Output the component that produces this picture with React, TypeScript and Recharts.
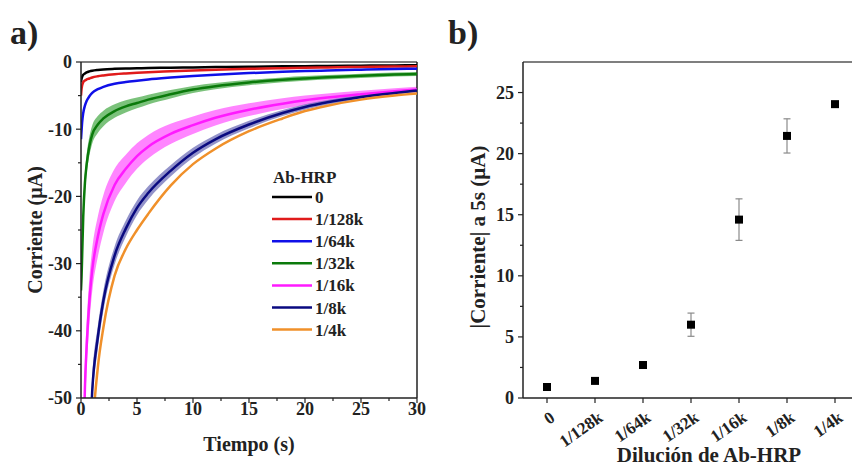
import React from 'react';
import {
  ComposedChart, Line, Area, XAxis, YAxis, ReferenceLine, ErrorBar,
} from 'recharts';

// panel a) chronoamperometry, current (µA) vs time (s)
const times = [0, 0.05, 0.1, 0.2, 0.35, 0.5, 0.75, 1, 1.5, 2, 3, 4, 5, 6, 8, 10, 12, 15, 18, 20, 22, 25, 28, 30];

const cur0   = [-3.0, -2.5, -2.2, -1.9, -1.7, -1.55, -1.4, -1.3, -1.18, -1.1, -1.02, -0.97, -0.93, -0.9, -0.85, -0.8, -0.76, -0.7, -0.65, -0.62, -0.59, -0.55, -0.51, -0.49];
const cur128 = [-5.0, -4.0, -3.5, -3.0, -2.75, -2.6, -2.45, -2.3, -2.12, -2.0, -1.82, -1.7, -1.6, -1.52, -1.38, -1.25, -1.15, -1.02, -0.92, -0.86, -0.8, -0.74, -0.68, -0.65];
const cur64  = [-11.5, -10.2, -9.0, -7.6, -6.5, -5.8, -5.1, -4.6, -4.05, -3.7, -3.25, -2.98, -2.78, -2.6, -2.32, -2.08, -1.88, -1.65, -1.45, -1.35, -1.26, -1.15, -1.05, -1.0];
const cur32  = [-34, -32, -29, -23, -18, -15.3, -12.5, -10.8, -9.3, -8.4, -7.3, -6.6, -6.1, -5.6, -4.8, -4.1, -3.6, -3.05, -2.65, -2.45, -2.28, -2.05, -1.87, -1.77];
const cur16  = [null, null, -80, -62, -48.5, -42.5, -35.5, -31.0, -26.0, -22.6, -18.3, -15.9, -14.0, -12.6, -10.7, -9.4, -8.3, -7.1, -6.2, -5.7, -5.3, -4.8, -4.35, -4.1];
const cur8   = [null, null, null, null, null, -70, -58, -49, -41, -35.5, -28.8, -24.8, -21.7, -19.5, -16.2, -13.5, -11.5, -9.3, -7.6, -6.7, -6.0, -5.2, -4.6, -4.25];
const cur4   = [null, null, null, null, null, -80, -66, -56, -45.5, -39.5, -31.8, -27.8, -25.0, -22.6, -18.4, -15.2, -12.9, -10.3, -8.4, -7.3, -6.5, -5.6, -5.0, -4.7];

// standard deviations (shaded bands)
const sd32 = [1.5, 1.5, 1.5, 1.5, 1.45, 1.45, 1.4, 1.35, 1.25, 1.15, 1.0, 0.9, 0.8, 0.72, 0.62, 0.52, 0.46, 0.4, 0.36, 0.35, 0.33, 0.32, 0.3, 0.3];
const sd16 = [null, null, 4, 4, 3.8, 3.6, 3.4, 3.2, 3.0, 2.8, 2.4, 2.1, 1.9, 1.75, 1.5, 1.3, 1.15, 0.95, 0.8, 0.7, 0.62, 0.52, 0.45, 0.4];
const sd8  = [null, null, null, null, null, 2.2, 2.1, 2.0, 1.7, 1.5, 1.35, 1.2, 1.1, 1.0, 0.85, 0.75, 0.65, 0.55, 0.45, 0.4, 0.36, 0.3, 0.27, 0.25];

const seriesNames  = ['0', '1/128k', '1/64k', '1/32k', '1/16k', '1/8k', '1/4k'];
const seriesColors = ['#000000', '#e01b1b', '#1010e8', '#0b7a0b', '#ff1aff', '#0a0a80', '#f0902a'];

// panel b) |current| at 5 s vs dilution
const dilutions  = ['0', '1/128k', '1/64k', '1/32k', '1/16k', '1/8k', '1/4k'];
const current5s  = [0.9, 1.4, 2.7, 6.0, 14.6, 21.45, 24.05];
const current5sE = [0.1, 0.1, 0.15, 0.95, 1.7, 1.4, 0.15];

const xTicksA = [0, 2.5, 5, 7.5, 10, 12.5, 15, 17.5, 20, 22.5, 25, 27.5, 30];
const yTicksA = [-50, -45, -40, -35, -30, -25, -20, -15, -10, -5, 0];
const yTicksB = [0, 2.5, 5, 7.5, 10, 12.5, 15, 17.5, 20, 22.5, 25];

const FONT = '"Liberation Serif", "Times New Roman", serif';
const INK = '#222';

const band = (v: (number | null)[], s: (number | null)[], i: number) =>
  v[i] == null || s[i] == null ? null : [(v[i] as number) - (s[i] as number), (v[i] as number) + (s[i] as number)];

const rowsA = times.map((t, i) => ({
  t,
  s0: cur0[i], s128: cur128[i], s64: cur64[i], s32: cur32[i], s16: cur16[i], s8: cur8[i], s4: cur4[i],
  b32: band(cur32, sd32, i), b16: band(cur16, sd16, i), b8: band(cur8, sd8, i),
}));
const lineKeys = ['s0', 's128', 's64', 's32', 's16', 's8', 's4'];

const rowsB = dilutions.map((name, i) => ({ name, value: current5s[i], err: current5sE[i] }));

function LeftTick(props: any) {
  const { x, y, payload, step } = props;
  const v = payload.value;
  const major = v % step === 0;
  return (
    <g>
      <line x1={x - (major ? 5 : 3)} x2={x} y1={y} y2={y} stroke={INK} strokeWidth={1.2} />
      {major && (
        <text x={x - 9} y={y} dy="0.35em" textAnchor="end" fontFamily={FONT} fontWeight="bold" fontSize={18} fill={INK}>
          {v}
        </text>
      )}
    </g>
  );
}

function BottomTick(props: any) {
  const { x, y, payload } = props;
  const v = payload.value;
  const major = v % 5 === 0;
  return (
    <g>
      <line x1={x} x2={x} y1={y} y2={y + (major ? 5 : 3)} stroke={INK} strokeWidth={1.2} />
      {major && (
        <text x={x} y={y + 17} textAnchor="middle" fontFamily={FONT} fontWeight="bold" fontSize={18} fill={INK}>
          {v}
        </text>
      )}
    </g>
  );
}

function RotatedTick(props: any) {
  const { x, y, payload } = props;
  const ax = x + 9;
  const ay = y + 22;
  return (
    <g>
      <line x1={x} x2={x} y1={y} y2={y + 5} stroke={INK} strokeWidth={1.2} />
      <text x={ax} y={ay} textAnchor="end" transform={`rotate(-35 ${ax} ${ay})`}
        fontFamily={FONT} fontWeight="bold" fontSize={17} fill={INK}>
        {payload.value}
      </text>
    </g>
  );
}

const squareDot = (p: any) => (
  <rect key={`sq-${p.index}`} x={p.cx - 4} y={p.cy - 4} width={8} height={8} fill="#000" />
);

export default function App() {
  return (
    <div style={{ position: 'absolute', left: 0, top: 0, width: 852, height: 470, overflow: 'hidden', background: '#fff' }}>
      <div style={{ position: 'absolute', left: 0, top: 0 }}>
        <ComposedChart width={430} height={470} data={rowsA} margin={{ top: 62, right: 13, bottom: 0, left: 0 }}>
          <XAxis dataKey="t" type="number" domain={[0, 30]} ticks={xTicksA} interval={0} allowDataOverflow
            height={72} tickSize={0} tickMargin={0} tickLine={false} tick={<BottomTick />}
            axisLine={{ stroke: INK, strokeWidth: 1.5 }} />
          <YAxis type="number" domain={[-50, 0]} ticks={yTicksA} interval={0} allowDataOverflow
            width={81} tickSize={0} tickMargin={0} tickLine={false} tick={<LeftTick step={10} />}
            axisLine={{ stroke: INK, strokeWidth: 1.5 }} />
          <ReferenceLine y={0} stroke="#555" strokeWidth={1.5} />
          <ReferenceLine x={30} stroke={INK} strokeWidth={1.5} />
          <Area type="monotone" dataKey="b32" stroke="none" fill="#4fae4f" fillOpacity={0.75} isAnimationActive={false} />
          <Area type="monotone" dataKey="b16" stroke="none" fill="#ff5cff" fillOpacity={0.75} isAnimationActive={false} />
          <Area type="monotone" dataKey="b8" stroke="none" fill="#6f6fb8" fillOpacity={0.75} isAnimationActive={false} />
          {lineKeys.map((k, i) => (
            <Line key={k} type="monotone" dataKey={k} stroke={seriesColors[i]} strokeWidth={2.5}
              dot={false} isAnimationActive={false} />
          ))}
        </ComposedChart>
      </div>

      <div style={{ position: 'absolute', left: 430, top: 0 }}>
        <ComposedChart width={430} height={470} data={rowsB} margin={{ top: 62, right: 1, bottom: 0, left: 0 }}>
          <XAxis dataKey="name" type="category" padding={{ left: 24, right: 24 }} interval={0}
            height={72} tickSize={0} tickMargin={0} tickLine={false} tick={<RotatedTick />}
            axisLine={{ stroke: INK, strokeWidth: 1.5 }} />
          <YAxis type="number" domain={[0, 27.5]} ticks={yTicksB} interval={0} allowDataOverflow
            width={93} tickSize={0} tickMargin={0} tickLine={false} tick={<LeftTick step={5} />}
            axisLine={{ stroke: INK, strokeWidth: 1.5 }} />
          <ReferenceLine y={27.5} stroke="#555" strokeWidth={1.5} />
          <Line dataKey="value" stroke="none" dot={squareDot} isAnimationActive={false}>
            <ErrorBar dataKey="err" direction="y" width={3.5} stroke="#8a8a8a" strokeWidth={1.2} />
          </Line>
        </ComposedChart>
      </div>

      <svg width={852} height={470} style={{ position: 'absolute', left: 0, top: 0, pointerEvents: 'none' }}
        fontFamily={FONT} fontWeight="bold" fill={INK}>
        <text x={10} y={44} fontSize={34}>a)</text>
        <text x={448} y={44} fontSize={34}>b)</text>
        <text x={249} y={451} fontSize={20} textAnchor="middle">Tiempo (s)</text>
        <text x={35} y={230} fontSize={20} textAnchor="middle" dominantBaseline="central"
          transform="rotate(-90 35 230)">Corriente (µA)</text>
        <text x={478} y={237} fontSize={21} textAnchor="middle" dominantBaseline="central"
          transform="rotate(-90 478 237)">|Corriente| a 5s (µA)</text>
        <text x={709} y={462} fontSize={21} textAnchor="middle">Dilución de Ab-HRP</text>

        <text x={273} y={183} fontSize={17}>Ab-HRP</text>
        {seriesNames.map((n, i) => {
          const cy = 197 + i * 22.1;
          return (
            <g key={n}>
              <line x1={272} x2={312} y1={cy} y2={cy} stroke={seriesColors[i]} strokeWidth={2.5} />
              <text x={315} y={cy + 6} fontSize={17}>{n}</text>
            </g>
          );
        })}
      </svg>
    </div>
  );
}
